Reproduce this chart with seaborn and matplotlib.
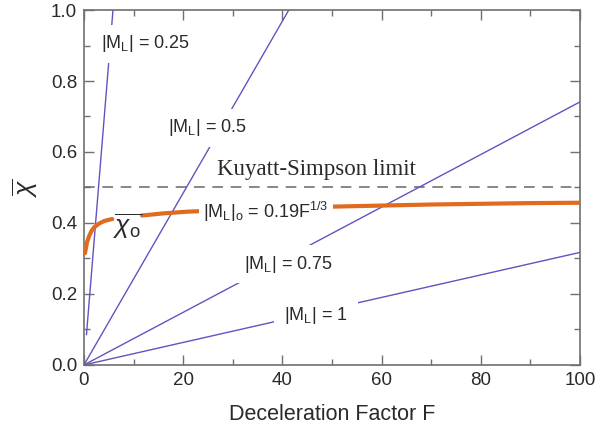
import numpy as np
import pandas as pd
import matplotlib
matplotlib.use("Agg")
import matplotlib.pyplot as plt
import seaborn as sns
from matplotlib.ticker import MultipleLocator

# ---- data ----
ml_names = ["0.25", "0.5", "0.75", "1"]
ml_F = [[0.5, 5.85], [0.0, 41.3], [0.0, 100.0], [0.0, 100.0]]
ml_chi = [[0.085, 1.0], [0.0, 1.0], [0.0, 0.741], [0.0, 0.317]]

# chi_o curve, drawn in two visible pieces (broken around the chi_o label)
chi_o_F_a = [0.2, 0.6, 1.0, 1.5, 2.0, 3.0, 4.0, 5.0, 5.7]
chi_o_val_a = [0.315, 0.345, 0.362, 0.377, 0.387, 0.398, 0.405, 0.409, 0.411]
chi_o_F_b = [11.7, 16.0, 21.0, 50.0, 60.0, 70.0, 80.0, 90.0, 100.0]
chi_o_val_b = [0.421, 0.427, 0.432, 0.446, 0.449, 0.452, 0.454, 0.456, 0.457]

ks_limit = 0.5

x_ticks = [0, 20, 40, 60, 80, 100]
y_ticks = [0.0, 0.2, 0.4, 0.6, 0.8, 1.0]

# ---- styling ----
sns.set_theme(style="ticks")
plt.rcParams["font.family"] = ["Liberation Sans", "DejaVu Sans"]
plt.rcParams["mathtext.fontset"] = "custom"
plt.rcParams["mathtext.rm"] = "Liberation Sans"
plt.rcParams["mathtext.it"] = "Liberation Sans:italic"

purple = "#6552c0"
orange = "#e06a1e"
spine_c = "#707070"
text_c = "#2a2a2a"

fig = plt.figure(figsize=(6.13, 4.36), dpi=100)
ax = fig.add_axes([0.137, 0.163, 0.809, 0.814])

for name, fx, cy in zip(ml_names, ml_F, ml_chi):
    sns.lineplot(x=fx, y=cy, ax=ax, color=purple, lw=1.0, sort=False,
                 estimator=None, zorder=2)

for fx, cy in [(chi_o_F_a, chi_o_val_a), (chi_o_F_b, chi_o_val_b)]:
    sns.lineplot(x=fx, y=cy, ax=ax, color=orange, lw=3.0, sort=False,
                 estimator=None, zorder=3)

ax.axhline(ks_limit, color="#666666", lw=1.1, dashes=(7, 5), zorder=1)

ax.set_xlim(0, 100)
ax.set_ylim(0, 1.0)
ax.set_xticks(x_ticks)
ax.set_yticks(y_ticks)
ax.set_yticklabels([f"{v:.1f}" for v in y_ticks])
ax.xaxis.set_minor_locator(MultipleLocator(10))
ax.yaxis.set_minor_locator(MultipleLocator(0.1))
ax.tick_params(which="both", direction="in", top=True, right=True,
               color=spine_c, labelsize=13.5, labelcolor=text_c, width=1.0)
ax.tick_params(which="major", length=7, pad=5)
ax.tick_params(which="minor", length=4)
for s in ax.spines.values():
    s.set_color(spine_c)
    s.set_linewidth(1.2)

ax.set_xlabel("Deceleration Factor F", fontsize=15.5, color=text_c, labelpad=11)
ax.set_ylabel(r"$\overline{\chi}$", fontsize=19, color=text_c, labelpad=8,
              rotation=90)

box = dict(facecolor="white", edgecolor="none")
lab_kw = dict(fontsize=13, color=text_c, ha="center", va="center", zorder=5)
ax.text(12.3, 0.905, r"|M$_\mathregular{L}$| = 0.25",
        bbox=dict(box, pad=6), **lab_kw)
ax.text(24.8, 0.668, r"|M$_\mathregular{L}$| = 0.5",
        bbox=dict(box, pad=6), **lab_kw)
ax.text(36.7, 0.432, r"|M$_\mathregular{L}$|$_\mathregular{o}$ = 0.19F$^\mathregular{1/3}$",
        bbox=dict(box, pad=3), **lab_kw)
ax.text(41.3, 0.284, r"|M$_\mathregular{L}$| = 0.75",
        bbox=dict(box, pad=6), **lab_kw)
ax.text(46.8, 0.14, r"|M$_\mathregular{L}$| = 1",
        bbox=dict(box, pad=7), **lab_kw)
ax.text(8.8, 0.39, r"$\overline{\chi_\mathregular{o}}$", fontsize=19,
        color=text_c, ha="center", va="center", zorder=5)
ax.text(46.8, 0.55, "Kuyatt-Simpson limit", fontsize=16.5, color=text_c,
        family="Liberation Serif", ha="center", va="center", zorder=5)

fig.savefig("out.png", dpi=100)
